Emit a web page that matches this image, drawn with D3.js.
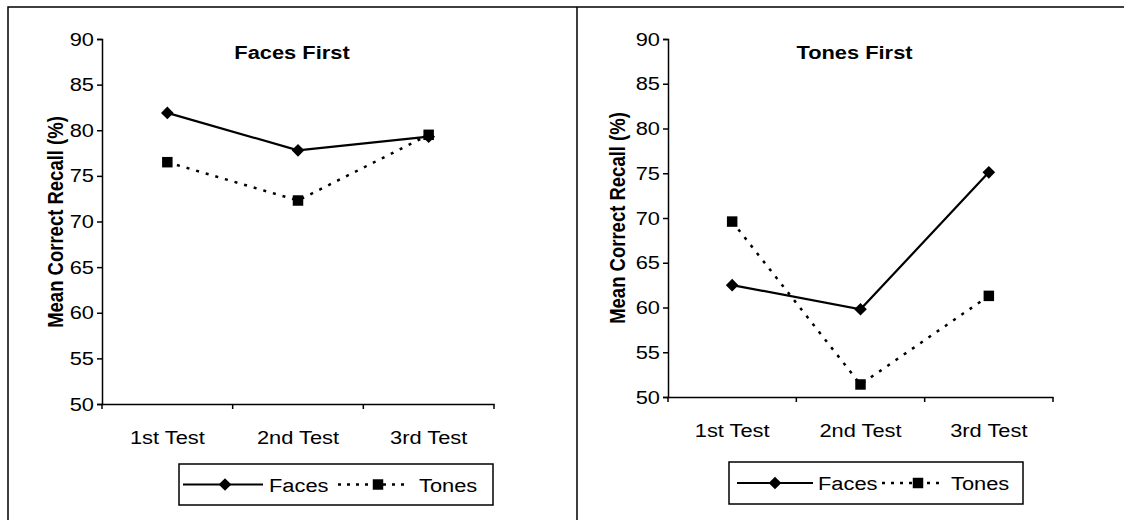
<!DOCTYPE html>
<html lang="en">
<head>
    <meta charset="UTF-8">
    <script src="https://d3js.org/d3.v7.min.js"></script>
    <title>index</title>
    <style>
        body { margin: 0; background: #fff; }
        text { font-family: "Liberation Sans", Arial, sans-serif; fill: #000; }
    </style>
</head>
<body>
    <div id="chart"></div>

    <script>
        // data
        var tests = ['1st Test', '2nd Test', '3rd Test'];
        var yTicks = [50, 55, 60, 65, 70, 75, 80, 85, 90];
        var seriesNames = ['Faces', 'Tones'];

        var facesFirstFaces = [81.9, 77.8, 79.3];
        var facesFirstTones = [76.5, 72.3, 79.5];
        var tonesFirstFaces = [62.5, 59.8, 75.1];
        var tonesFirstTones = [69.6, 51.4, 61.3];

        var width = 1124;
        var height = 520;
        var stretch = 1.15;   // scanned text looks wide
        var fontSize = 19;

        var svg = d3.select('#chart')
                    .append('svg')
                        .attr('width', width)
                        .attr('height', height);

        // outer frame of the scan
        svg.append('path')
            .attr('d', 'M8,520V7H1124M577,7V520')
            .attr('fill', 'none')
            .attr('stroke', '#000')
            .attr('stroke-width', 1.5);

        var panels = [
            { title: 'Faces First', faces: facesFirstFaces, tones: facesFirstTones,
              left: 102, right: 494, top: 39, bottom: 404, labelX: 56, labelY: 222, titleY: 59,
              legend: { x: 179, y: 464, w: 314, h: 41, l1: [4, 84], m1: 46, t1: 90, l2: [159, 228], m2: 199, t2: 240 } },
            { title: 'Tones First', faces: tonesFirstFaces, tones: tonesFirstTones,
              left: 668, right: 1053, top: 39, bottom: 397, labelX: 618, labelY: 218, titleY: 59,
              legend: { x: 729, y: 462, w: 294, h: 42, l1: [8, 84], m1: 46, t1: 89, l2: [153, 215], m2: 189, t2: 222 } }
        ];

        function wideText(sel, size, weight) {
            return sel.style('font-size', size + 'px').style('font-weight', weight || 'normal');
        }

        panels.forEach(function(p) {
            var x = d3.scaleBand().domain(tests).range([p.left, p.right]);
            var y = d3.scaleLinear().domain([50, 90]).range([p.bottom, p.top]);

            var g = svg.append('g');

            // y axis
            var yAxis = g.append('g')
                .attr('transform', 'translate(' + p.left + ',0)')
                .call(d3.axisLeft(y).tickValues(yTicks).tickSize(5).tickPadding(3));
            yAxis.selectAll('text')
                .attr('x', -8 / stretch)
                .attr('transform', 'scale(' + stretch + ',1)')
                .style('font-family', '"Liberation Sans", Arial, sans-serif')
                .style('font-size', fontSize + 'px');

            // x axis, ticks sit on band edges
            var xAxis = g.append('g')
                .attr('transform', 'translate(0,' + p.bottom + ')')
                .call(d3.axisBottom(x).tickSize(0).tickPadding(27));
            xAxis.selectAll('.tick text')
                .attr('transform', 'scale(' + stretch + ',1)')
                .style('font-family', '"Liberation Sans", Arial, sans-serif')
                .style('font-size', fontSize + 'px');
            xAxis.selectAll('.tick').each(function(d) {
                var cx = x(d) + x.bandwidth() / 2;
                d3.select(this).attr('transform', 'translate(' + cx + ',0)');
                d3.select(this).select('text').attr('x', 0);
            });
            var edges = tests.map(function(d) { return x(d); }).concat([p.right]);
            xAxis.selectAll('.edge')
                .data(edges)
                .enter()
                .append('line')
                    .attr('class', 'edge')
                    .attr('x1', function(d) { return d; })
                    .attr('x2', function(d) { return d; })
                    .attr('y1', 0)
                    .attr('y2', 5)
                    .attr('stroke', '#000');

            g.selectAll('.domain, .tick line').attr('stroke', '#000').attr('stroke-width', 1.5);
            g.selectAll('.edge').attr('stroke-width', 1.5);

            // title
            wideText(g.append('text'), fontSize, 'bold')
                .attr('transform', 'translate(' + ((p.left + p.right) / 2 - 6) + ',' + p.titleY + ') scale(' + stretch + ',1)')
                .attr('text-anchor', 'middle')
                .text(p.title);

            // y label
            wideText(g.append('text'), 18.5, 'bold')
                .attr('transform', 'translate(' + p.labelX + ',' + p.labelY + ') rotate(-90) scale(1,' + stretch + ')')
                .attr('text-anchor', 'middle')
                .attr('dy', '0.35em')
                .text('Mean Correct Recall (%)');

            var line = d3.line()
                .x(function(d, i) { return x(tests[i]) + x.bandwidth() / 2; })
                .y(function(d) { return y(d); });

            g.append('path')
                .datum(p.tones)
                .attr('d', line)
                .attr('fill', 'none')
                .attr('stroke', '#000')
                .attr('stroke-width', 2.5)
                .attr('stroke-dasharray', '3,7');

            g.append('path')
                .datum(p.faces)
                .attr('d', line)
                .attr('fill', 'none')
                .attr('stroke', '#000')
                .attr('stroke-width', 2.2);

            var diamond = d3.symbol().type(d3.symbolSquare).size(80);
            var square = d3.symbol().type(d3.symbolSquare).size(110);

            g.selectAll('.tonesPt')
                .data(p.tones)
                .enter()
                .append('path')
                    .attr('class', 'tonesPt')
                    .attr('d', square)
                    .attr('transform', function(d, i) {
                        return 'translate(' + (x(tests[i]) + x.bandwidth() / 2) + ',' + y(d) + ')';
                    });

            g.selectAll('.facesPt')
                .data(p.faces)
                .enter()
                .append('path')
                    .attr('class', 'facesPt')
                    .attr('d', diamond)
                    .attr('transform', function(d, i) {
                        return 'translate(' + (x(tests[i]) + x.bandwidth() / 2) + ',' + y(d) + ') rotate(45)';
                    });

            // legend
            var L = p.legend;
            var lg = g.append('g').attr('transform', 'translate(' + L.x + ',' + L.y + ')');
            var cy = L.h / 2;
            lg.append('rect')
                .attr('width', L.w)
                .attr('height', L.h)
                .attr('fill', '#fff')
                .attr('stroke', '#000')
                .attr('stroke-width', 1.5);
            lg.append('line')
                .attr('x1', L.l1[0]).attr('x2', L.l1[1])
                .attr('y1', cy).attr('y2', cy)
                .attr('stroke', '#000').attr('stroke-width', 2);
            lg.append('path')
                .attr('d', diamond)
                .attr('transform', 'translate(' + L.m1 + ',' + cy + ') rotate(45)');
            lg.append('line')
                .attr('x1', L.l2[0]).attr('x2', L.l2[1])
                .attr('y1', cy).attr('y2', cy)
                .attr('stroke', '#000').attr('stroke-width', 2.5)
                .attr('stroke-dasharray', '3,6');
            lg.append('path')
                .attr('d', square)
                .attr('transform', 'translate(' + L.m2 + ',' + cy + ')');
            wideText(lg.append('text'), fontSize)
                .attr('transform', 'translate(' + L.t1 + ',' + (cy + 7) + ') scale(' + stretch + ',1)')
                .text(seriesNames[0]);
            wideText(lg.append('text'), fontSize)
                .attr('transform', 'translate(' + L.t2 + ',' + (cy + 7) + ') scale(' + stretch + ',1)')
                .text(seriesNames[1]);
        });
    </script>
</body>
</html>
